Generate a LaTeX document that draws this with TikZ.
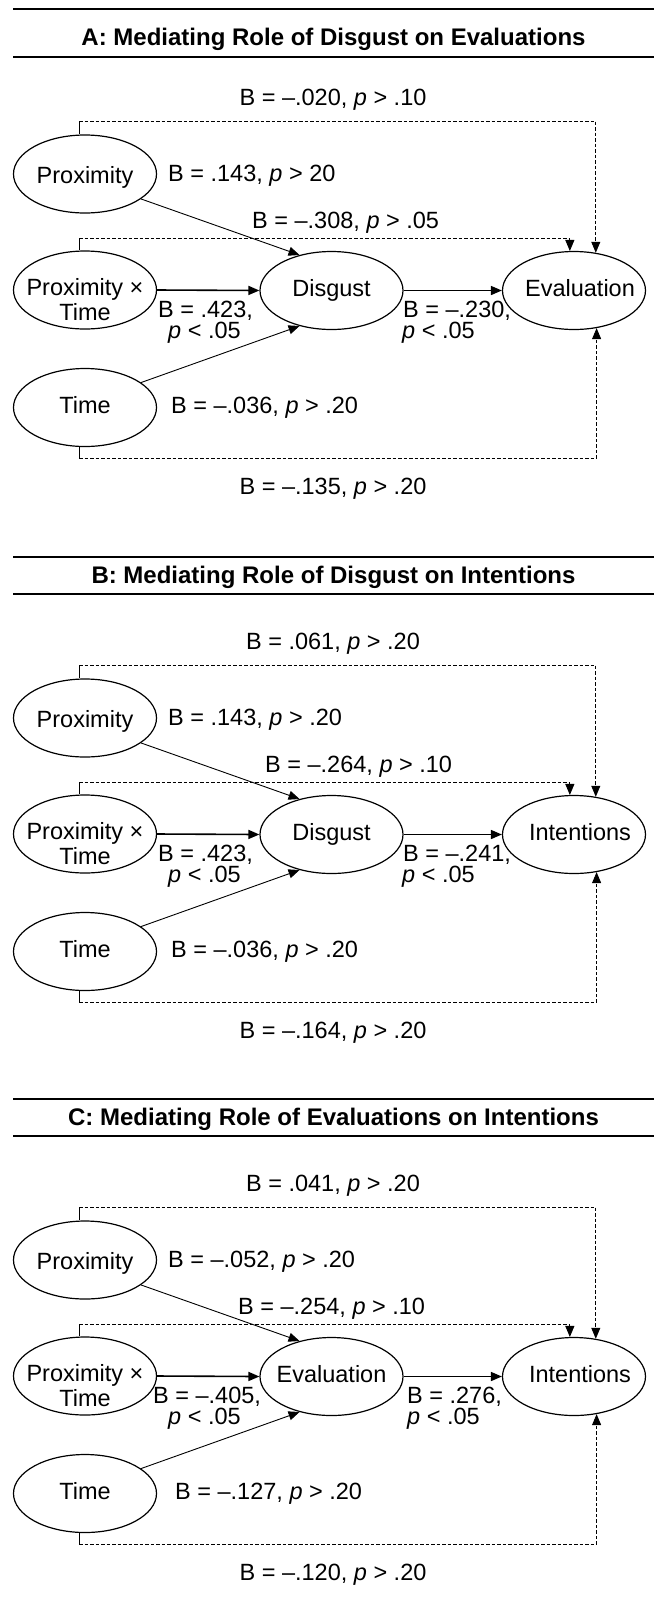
\documentclass[tikz,border=0pt]{standalone}
\usepackage{fontspec}
\setmainfont{Liberation Sans}
\usetikzlibrary{shapes.geometric,arrows.meta}
\begin{document}
\begin{tikzpicture}[x=1pt,y=1pt,
  var/.style={ellipse,draw,line width=1.2pt,minimum width=143pt,minimum height=78pt,inner sep=0pt},
  vtext/.style={inner sep=0pt,anchor=base,font=\fontsize{23.5}{25}\selectfont},
  lab/.style={inner sep=0pt,font=\fontsize{23.5}{25}\selectfont},
  ttl/.style={inner sep=0pt,font=\fontsize{24}{26}\selectfont\bfseries},
  rulestyle/.style={line width=2pt},
  tip/.style={-{Triangle[length=11pt,width=9pt]}},
  mainarr/.style={tip,line width=1.6pt},
  diagarr/.style={tip,line width=0.9pt},
  dsh/.style={tip,line width=0.9pt,dash pattern=on 3.5pt off 2pt},
  stub/.style={line width=0.9pt}
]
\useasboundingbox (0,0) rectangle (654,-1604);

% ---------------- Panel A ----------------
\draw[rulestyle] (13,-9) -- (654,-9);
\node[ttl,anchor=base] (tA) at (333.5,-45) {A: Mediating Role of Disgust on Evaluations};
\draw[rulestyle] (13,-57) -- (654,-57);

\node[var] (aP) at (85,-174) {};
\node[var] (aPT) at (85,-290) {};
\node[var] (aT) at (85,-407.5) {};
\node[var] (aM) at (331.5,-290.5) {};
\node[var] (aO) at (574,-290.5) {};
\node[vtext] (aPx) at ([yshift=-9pt]aP.center) {Proximity};
\node[vtext] (aPTx1) at ([yshift=-5pt]aPT.center) {Proximity ×};
\node[vtext] (aPTx2) at ([yshift=-30pt]aPT.center) {Time};
\node[vtext] (aTx) at ([yshift=-6pt]aT.center) {Time};
\node[vtext] (aMx) at ([yshift=-6pt]aM.center) {Disgust};
\node[vtext] (aOx) at ([xshift=6pt,yshift=-6pt]aO.center) {Evaluation};

\draw[mainarr] (aPT.east) -- (aM.west);
\draw[mainarr] (aM.east) -- (aO.west);
\draw[diagarr] (aP.-24) -- (aM.132);
\draw[diagarr] (aT.24.5) -- (aM.-132.6);

\draw[stub] ([xshift=-6pt]aP.north) -- ++(0,13) coordinate (aP1);
\draw[dsh] (aP1) -| (aO.60.6);
\draw[stub] ([xshift=-6pt]aPT.north) -- ++(0,12) coordinate (aPT1);
\draw[dsh] (aPT1) -| (aO.96);
\draw[stub] ([xshift=-6pt]aT.south) -- ++(0,-11) coordinate (aT1);
\draw[dsh] (aT1) -| (aO.-59.3);

\node[lab,anchor=base] (aL1) at (333,-105) {B = –.020, \textit{p} > .10};
\node[lab,anchor=base west] (aL2) at (168,-181) {B = .143, \textit{p} > 20};
\node[lab,anchor=base west] (aL3) at (252,-228) {B = –.308, \textit{p} > .05};
\node[lab,anchor=base west] (aL4) at (158,-317) {B = .423,};
\node[lab,anchor=base west] (aL5) at (168,-338) {\textit{p} < .05};
\node[lab,anchor=base west] (aL6) at (403,-317) {B = –.230,};
\node[lab,anchor=base west] (aL7) at (402,-338) {\textit{p} < .05};
\node[lab,anchor=base west] (aL8) at (171,-413) {B = –.036, \textit{p} > .20};
\node[lab,anchor=base] (aL9) at (333,-494) {B = –.135, \textit{p} > .20};

% ---------------- Panel B ----------------
\begin{scope}[yshift=-544pt]
\draw[rulestyle] (13,-13) -- (654,-13);
\node[ttl,anchor=base] (tB) at (333.5,-39) {B: Mediating Role of Disgust on Intentions};
\draw[rulestyle] (13,-50) -- (654,-50);

\node[var] (bP) at (85,-174) {};
\node[var] (bPT) at (85,-290) {};
\node[var] (bT) at (85,-407.5) {};
\node[var] (bM) at (331.5,-290.5) {};
\node[var] (bO) at (574,-290.5) {};
\node[vtext] (bPx) at ([yshift=-9pt]bP.center) {Proximity};
\node[vtext] (bPTx1) at ([yshift=-5pt]bPT.center) {Proximity ×};
\node[vtext] (bPTx2) at ([yshift=-30pt]bPT.center) {Time};
\node[vtext] (bTx) at ([yshift=-6pt]bT.center) {Time};
\node[vtext] (bMx) at ([yshift=-6pt]bM.center) {Disgust};
\node[vtext] (bOx) at ([xshift=6pt,yshift=-6pt]bO.center) {Intentions};

\draw[mainarr] (bPT.east) -- (bM.west);
\draw[mainarr] (bM.east) -- (bO.west);
\draw[diagarr] (bP.-24) -- (bM.132);
\draw[diagarr] (bT.24.5) -- (bM.-132.6);

\draw[stub] ([xshift=-6pt]bP.north) -- ++(0,13) coordinate (bP1);
\draw[dsh] (bP1) -| (bO.60.6);
\draw[stub] ([xshift=-6pt]bPT.north) -- ++(0,12) coordinate (bPT1);
\draw[dsh] (bPT1) -| (bO.96);
\draw[stub] ([xshift=-6pt]bT.south) -- ++(0,-11) coordinate (bT1);
\draw[dsh] (bT1) -| (bO.-59.3);

\node[lab,anchor=base] (bL1) at (333,-105) {B = .061, \textit{p} > .20};
\node[lab,anchor=base west] (bL2) at (168,-181) {B = .143, \textit{p} > .20};
\node[lab,anchor=base west] (bL3) at (265,-228) {B = –.264, \textit{p} > .10};
\node[lab,anchor=base west] (bL4) at (158,-317) {B = .423,};
\node[lab,anchor=base west] (bL5) at (168,-338) {\textit{p} < .05};
\node[lab,anchor=base west] (bL6) at (403,-317) {B = –.241,};
\node[lab,anchor=base west] (bL7) at (402,-338) {\textit{p} < .05};
\node[lab,anchor=base west] (bL8) at (171,-413) {B = –.036, \textit{p} > .20};
\node[lab,anchor=base] (bL9) at (333,-494) {B = –.164, \textit{p} > .20};
\end{scope}

% ---------------- Panel C ----------------
\begin{scope}[yshift=-1086pt]
\draw[rulestyle] (13,-13) -- (654,-13);
\node[ttl,anchor=base] (tC) at (333.5,-39) {C: Mediating Role of Evaluations on Intentions};
\draw[rulestyle] (13,-50) -- (654,-50);

\node[var] (cP) at (85,-174) {};
\node[var] (cPT) at (85,-290) {};
\node[var] (cT) at (85,-407.5) {};
\node[var] (cM) at (331.5,-290.5) {};
\node[var] (cO) at (574,-290.5) {};
\node[vtext] (cPx) at ([yshift=-9pt]cP.center) {Proximity};
\node[vtext] (cPTx1) at ([yshift=-5pt]cPT.center) {Proximity ×};
\node[vtext] (cPTx2) at ([yshift=-30pt]cPT.center) {Time};
\node[vtext] (cTx) at ([yshift=-6pt]cT.center) {Time};
\node[vtext] (cMx) at ([yshift=-6pt]cM.center) {Evaluation};
\node[vtext] (cOx) at ([xshift=6pt,yshift=-6pt]cO.center) {Intentions};

\draw[mainarr] (cPT.east) -- (cM.west);
\draw[mainarr] (cM.east) -- (cO.west);
\draw[diagarr] (cP.-24) -- (cM.132);
\draw[diagarr] (cT.24.5) -- (cM.-132.6);

\draw[stub] ([xshift=-6pt]cP.north) -- ++(0,13) coordinate (cP1);
\draw[dsh] (cP1) -| (cO.60.6);
\draw[stub] ([xshift=-6pt]cPT.north) -- ++(0,12) coordinate (cPT1);
\draw[dsh] (cPT1) -| (cO.96);
\draw[stub] ([xshift=-6pt]cT.south) -- ++(0,-11) coordinate (cT1);
\draw[dsh] (cT1) -| (cO.-59.3);

\node[lab,anchor=base] (cL1) at (333,-105) {B = .041, \textit{p} > .20};
\node[lab,anchor=base west] (cL2) at (168,-181) {B = –.052, \textit{p} > .20};
\node[lab,anchor=base west] (cL3) at (238,-228) {B = –.254, \textit{p} > .10};
\node[lab,anchor=base west] (cL4) at (153,-317) {B = –.405,};
\node[lab,anchor=base west] (cL5) at (168,-338) {\textit{p} < .05};
\node[lab,anchor=base west] (cL6) at (407,-317) {B = .276,};
\node[lab,anchor=base west] (cL7) at (407,-338) {\textit{p} < .05};
\node[lab,anchor=base west] (cL8) at (175,-413) {B = –.127, \textit{p} > .20};
\node[lab,anchor=base] (cL9) at (333,-494) {B = –.120, \textit{p} > .20};
\end{scope}
\end{tikzpicture}
\end{document}
